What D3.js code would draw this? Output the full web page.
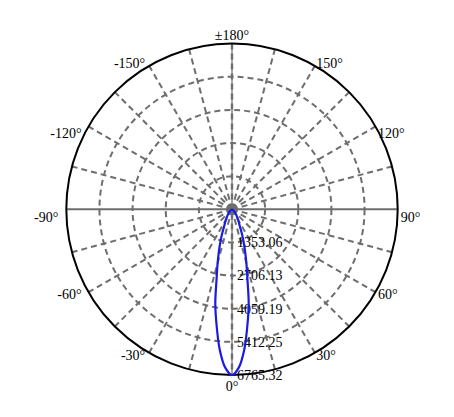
<!DOCTYPE html>
<html lang="en">
<head>
    <meta charset="UTF-8">
    <title>Polar intensity curve</title>
    <script src="https://d3js.org/d3.v7.min.js"></script>
    <style>
        body {
            margin: 0;
            padding: 0;
            background-color: white;
        }

        text {
            font-family: 'Liberation Serif', 'Times New Roman', serif;
            font-size: 14px;
            fill: #000;
        }
    </style>
</head>
<body>
    <div id="chart"></div>
    <script>
        // C-plane 0/180 intensity (cd), gamma in degrees
        var gammaAngles = [-90, -80, -70, -60, -55, -50, -45, -40, -35, -30, -27.5, -25, -22.5, -20, -17.5, -15, -12.5, -10, -7.5, -5, -2.5,
            0, 2.5, 5, 7.5, 10, 12.5, 15, 17.5, 20, 22.5, 25, 27.5, 30, 35, 40, 45, 50, 55, 60, 70, 80, 90];
        var intensity = [0, 0, 7, 25, 45, 80, 135, 215, 340, 505, 610, 745, 1015, 1355, 1760, 2265, 2910, 3925, 4800, 5750, 6460,
            6765.32, 6460, 5750, 4800, 3925, 2910, 2265, 1760, 1355, 1015, 745, 610, 505, 340, 215, 135, 80, 45, 25, 7, 0, 0];

        var ringValues = [1353.06, 2706.13, 4059.19, 5412.25, 6765.32];
        var ringLabels = ["1353.06", "2706.13", "4059.19", "5412.25", "6765.32"];
        var angleTicks = [0, 30, 60, 90, 120, 150, 180, -150, -120, -90, -60, -30];
        var angleTickLabels = ["0°", "30°", "60°", "90°", "120°", "150°", "±180°", "-150°", "-120°", "-90°", "-60°", "-30°"];

        var width = 454, height = 417;
        var cx = 232, cy = 209.3, R = 165.7;

        var svg = d3.select("#chart")
            .append("svg")
            .attr("width", width)
            .attr("height", height)
            .append("g")
            .attr("transform", "translate(" + cx + "," + cy + ")");

        var r = d3.scaleLinear()
            .domain([0, d3.max(ringValues)])
            .range([0, R]);

        // 0° points down, +90° to the right
        function rad(deg) { return (180 - deg) * Math.PI / 180; }
        function px(deg, rr) { return rr * Math.sin(deg * Math.PI / 180); }
        function py(deg, rr) { return rr * Math.cos(deg * Math.PI / 180); }

        var grid = "#6e6e6e";

        // dashed rings
        svg.selectAll(".ring")
            .data(ringValues.slice(0, -1))
            .enter()
            .append("circle")
            .attr("class", "ring")
            .attr("r", function (d) { return r(d); })
            .attr("fill", "none")
            .attr("stroke", grid)
            .attr("stroke-width", 2)
            .attr("stroke-dasharray", "6,4");

        // spokes every 15°
        var spokes = d3.range(0, 360, 15);
        svg.selectAll(".spoke")
            .data(spokes.filter(function (d) { return d % 90 !== 0; }))
            .enter()
            .append("line")
            .attr("class", "spoke")
            .attr("x1", 0).attr("y1", 0)
            .attr("x2", function (d) { return px(d, R); })
            .attr("y2", function (d) { return py(d, R); })
            .attr("stroke", grid)
            .attr("stroke-width", 2)
            .attr("stroke-dasharray", "6,4");

        // main axes
        svg.append("line")
            .attr("x1", -R).attr("y1", 0).attr("x2", R).attr("y2", 0)
            .attr("stroke", grid).attr("stroke-width", 2);
        svg.append("line")
            .attr("x1", 0).attr("y1", -R).attr("x2", 0).attr("y2", R)
            .attr("stroke", grid).attr("stroke-width", 1.2);
        svg.append("line")
            .attr("x1", 0).attr("y1", -R).attr("x2", 0).attr("y2", R)
            .attr("stroke", grid).attr("stroke-width", 2.4)
            .attr("stroke-dasharray", "6,4");

        // outer circle
        svg.append("circle")
            .attr("r", R)
            .attr("fill", "none")
            .attr("stroke", "#000")
            .attr("stroke-width", 2);

        // ring value labels along 0°
        svg.selectAll(".ring-label")
            .data(ringValues)
            .enter()
            .append("text")
            .attr("class", "ring-label")
            .attr("x", 5)
            .attr("y", function (d) { return r(d); })
            .attr("dy", "0.35em")
            .text(function (d, i) { return ringLabels[i]; });

        // angle labels
        svg.selectAll(".angle-label")
            .data(angleTicks)
            .enter()
            .append("text")
            .attr("class", "angle-label")
            .attr("x", function (d) {
                if (d === 0 || d === 180) return 0;
                return d > 0 ? px(d, R + 3) : px(d, R + 8);
            })
            .attr("y", function (d) {
                if (d === 0) return R + 11;
                if (d === 180) return -R - 9;
                var a = Math.abs(d);
                return py(d, R + 3) + (a === 90 || a === 120 ? 8 : 0);
            })
            .attr("dy", "0.35em")
            .attr("text-anchor", function (d) {
                if (d === 0 || d === 180) return "middle";
                return d > 0 ? "start" : "end";
            })
            .text(function (d, i) { return angleTickLabels[i]; });

        // intensity curve
        var pts = gammaAngles.map(function (a, i) { return [rad(a), r(intensity[i])]; });
        var line = d3.lineRadial()
            .angle(function (d) { return d[0]; })
            .radius(function (d) { return d[1]; })
            .curve(d3.curveCatmullRom);

        svg.append("path")
            .datum(pts)
            .attr("d", line)
            .attr("fill", "none")
            .attr("stroke", "#1a1ae6")
            .attr("stroke-width", 2.2);
    </script>
</body>
</html>
